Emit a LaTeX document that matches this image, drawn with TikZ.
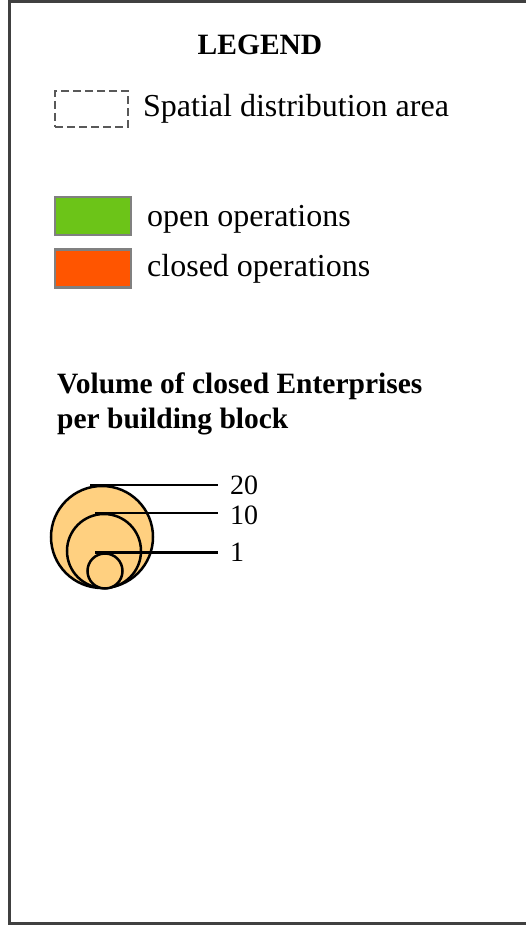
\documentclass[tikz,border=0pt]{standalone}
\usepackage{fontspec}
\setmainfont{Liberation Serif}
\usetikzlibrary{positioning}
\definecolor{opengreen}{RGB}{108,196,24}
\definecolor{closedred}{RGB}{255,85,0}
\definecolor{blockfill}{RGB}{255,208,128}

\begin{document}
\begin{tikzpicture}[
  x=1pt, y=-1pt,
  txt/.style={font=\fontsize{32}{36}\selectfont, inner sep=0pt, anchor=base west},
  head/.style={font=\fontsize{29.5}{35}\selectfont\bfseries, inner sep=0pt, align=left},
  swatch/.style={draw=black!50, line width=2.5pt, minimum width=76pt,
                 minimum height=38pt, inner sep=0pt},
  bubble/.style={circle, draw=black, line width=2.5pt, fill=blockfill, inner sep=0pt},
  num/.style={font=\fontsize{28}{32}\selectfont, inner xsep=12pt, inner ysep=0pt, anchor=west},
  lead/.style={line width=2.5pt}
]
\useasboundingbox (0,0) rectangle (526,925);
\draw[line width=3pt, draw=black!75] (9,2) rectangle (545,923);

\node (title) [head, anchor=base] at (260,55) {LEGEND};

% spatial area
\node (area) [draw=black!65, dashed, dash pattern=on 8pt off 4pt, line width=2pt,
              minimum width=73pt, minimum height=36pt, inner sep=0pt] at (91.5,109) {};
\node (arealbl) [txt] at (143,117) {Spatial distribution area};

% operations
\node (open) [swatch, fill=opengreen] at (93,216) {};
\node (openlbl) [txt] at (147,226) {open operations};
\node (closed) [swatch, fill=closedred, below=12pt of open] {};
\node (closedlbl) [txt] at (147,276) {closed operations};

% volume
\node (vol) [head, anchor=base west] at (57,428) {Volume of closed Enterprises\\per building block};

\node (c20) [bubble, minimum size=102pt] at (102,537) {};
\node (c10) [bubble, minimum size=74pt] at (104,551) {};
\node (c1)  [bubble, minimum size=35pt] at (105,571) {};

\node (n20) [num] at (218,485) {20};
\node (n10) [num] at (218,515) {10};
\node (n1)  [num] at (218,552) {1};

\coordinate (t20) at ([xshift=-12pt]c20.north);
\coordinate (t10) at ([xshift=-9pt]c10.north);
\coordinate (t1)  at ([xshift=-10pt]c1.north);
\draw[lead] (t20) -- (t20 -| n20.west);
\draw[lead] (t10) -- (t10 -| n10.west);
\draw[lead] (t1) -- (t1 -| n1.west);
\end{tikzpicture}
\end{document}
